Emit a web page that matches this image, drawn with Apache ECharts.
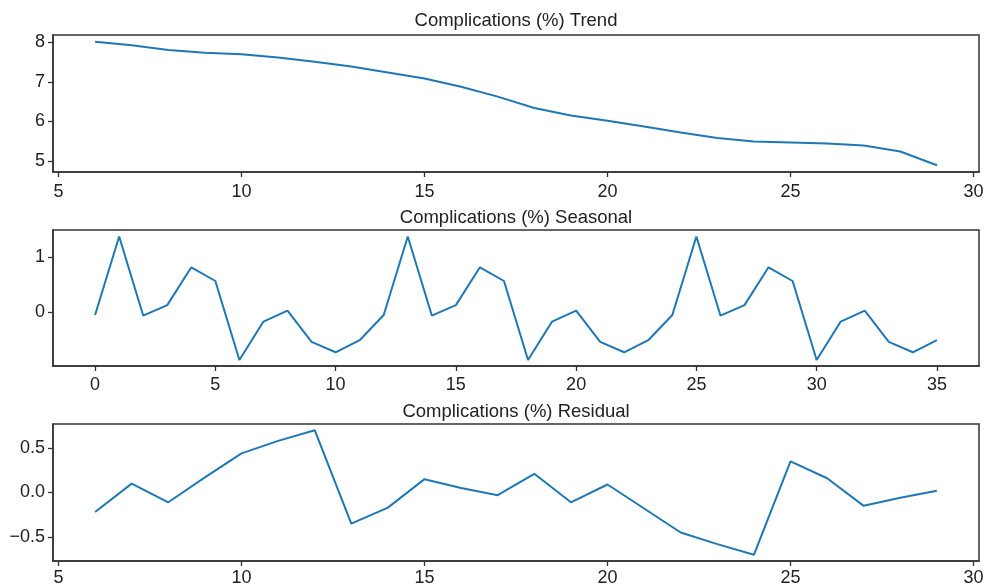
<!DOCTYPE html>
<html>
<head>
<meta charset="utf-8">
<script src="https://cdn.jsdelivr.net/npm/echarts@6/dist/echarts.min.js"></script>
<style>html,body{margin:0;padding:0;background:#fff;}#c{width:987px;height:587px;}</style>
</head>
<body>
<div id="c"></div>
<script>
// ---- data ----
const trendX = [6,7,8,9,10,11,12,13,14,15,16,17,18,19,20,21,22,23,24,25,26,27,28,29];
const trendY = [8.02,7.93,7.81,7.74,7.70,7.62,7.51,7.39,7.24,7.09,6.88,6.63,6.34,6.15,6.02,5.87,5.72,5.58,5.49,5.47,5.44,5.39,5.24,4.89];
const seasonalX = [0,1,2,3,4,5,6,7,8,9,10,11,12,13,14,15,16,17,18,19,20,21,22,23,24,25,26,27,28,29,30,31,32,33,34,35];
const seasonalY = [-0.05,1.38,-0.06,0.13,0.82,0.57,-0.87,-0.17,0.03,-0.54,-0.73,-0.51,
                   -0.05,1.38,-0.06,0.13,0.82,0.57,-0.87,-0.17,0.03,-0.54,-0.73,-0.51,
                   -0.05,1.38,-0.06,0.13,0.82,0.57,-0.87,-0.17,0.03,-0.54,-0.73,-0.51];
const residX = [6,7,8,9,10,11,12,13,14,15,16,17,18,19,20,21,22,23,24,25,26,27,28,29];
const residY = [-0.22,0.10,-0.11,0.17,0.44,0.58,0.70,-0.35,-0.17,0.15,0.05,-0.03,0.21,-0.11,0.09,-0.18,-0.45,-0.58,-0.70,0.35,0.16,-0.15,-0.06,0.02];
const titles = ['Complications (%) Trend','Complications (%) Seasonal','Complications (%) Residual'];
const xTicksTR = [5,10,15,20,25,30];
const xTicksS = [0,5,10,15,20,25,30,35];
const yTicksT = [5,6,7,8];
const yTicksS = [0,1];
const yTicksR = [-0.5,0,0.5];

// ---- chart ----
const FONT = 'Liberation Sans, Arial, Helvetica, sans-serif';
const AX = '#333333';
const LINE = '#1f77b4';
const grids = [
  {left:53, top:35, width:926, height:137},
  {left:53, top:230, width:926, height:136},
  {left:53, top:424, width:926, height:137}
];
function xAx(i, min, max, ticks, margin){
  return {gridIndex:i, type:'value', min:min, max:max,
    axisLine:{show:true, onZero:false, lineStyle:{color:AX, width:1.5}},
    axisTick:{show:true, length:5, inside:false, customValues:ticks, lineStyle:{color:AX, width:1.3}},
    axisLabel:{show:true, customValues:ticks, color:'#222', fontSize:18, fontFamily:FONT, margin:margin},
    splitLine:{show:false}};
}
function yAx(i, min, max, ticks, fmt){
  return {gridIndex:i, type:'value', min:min, max:max,
    axisLine:{show:true, onZero:false, lineStyle:{color:AX, width:1.5}},
    axisTick:{show:true, length:5, inside:false, customValues:ticks, lineStyle:{color:AX, width:1.3}},
    axisLabel:{show:true, customValues:ticks, color:'#222', fontSize:18, fontFamily:FONT, margin:8, formatter:fmt},
    splitLine:{show:false}};
}
const fmtInt = v => String(Math.round(v));
const fmtR = v => { const s = (Math.abs(v)).toFixed(1); return v < -1e-9 ? '\u2212' + s : s; };
function pairs(xs, ys){ return xs.map((x,i)=>[x, ys[i]]); }
const chart = echarts.init(document.getElementById('c'), null, {renderer:'canvas'});
const TF = '18.5px ' + FONT;
chart.setOption({
  backgroundColor:'#fff',
  animation:false,
  grid: grids.map(g => Object.assign({show:true, borderColor:AX, borderWidth:1.5, backgroundColor:'transparent', containLabel:false}, g)),
  xAxis:[xAx(0,4.85,30.15,xTicksTR,11), xAx(1,-1.75,36.75,xTicksS,10), xAx(2,4.85,30.15,xTicksTR,8)],
  yAxis:[yAx(0,4.72,8.19,yTicksT,fmtInt), yAx(1,-0.98,1.50,yTicksS,fmtInt), yAx(2,-0.77,0.77,yTicksR,fmtR)],
  series:[
    {type:'line', xAxisIndex:0, yAxisIndex:0, data:pairs(trendX,trendY), showSymbol:false, lineStyle:{color:LINE, width:2}},
    {type:'line', xAxisIndex:1, yAxisIndex:1, data:pairs(seasonalX,seasonalY), showSymbol:false, lineStyle:{color:LINE, width:2}},
    {type:'line', xAxisIndex:2, yAxisIndex:2, data:pairs(residX,residY), showSymbol:false, lineStyle:{color:LINE, width:2}}
  ],
  graphic:[
    {type:'text', x:516, y:21, style:{text:titles[0], fill:'#222', font:TF, textAlign:'center', textVerticalAlign:'middle'}},
    {type:'text', x:516, y:218, style:{text:titles[1], fill:'#222', font:TF, textAlign:'center', textVerticalAlign:'middle'}},
    {type:'text', x:516, y:412, style:{text:titles[2], fill:'#222', font:TF, textAlign:'center', textVerticalAlign:'middle'}}
  ]
});
</script>
</body>
</html>
